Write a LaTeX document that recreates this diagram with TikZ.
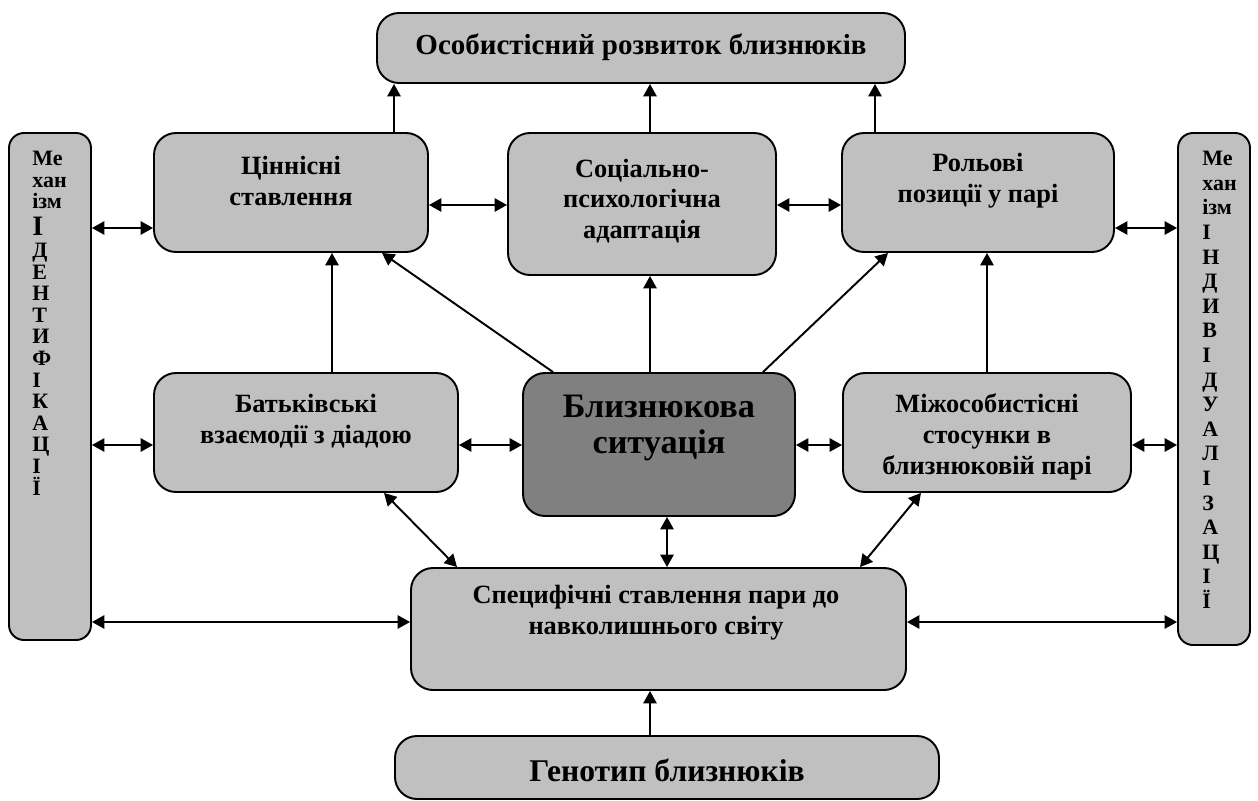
\documentclass[tikz,border=0pt]{standalone}
\usepackage{fontspec}
\setmainfont{Liberation Serif}
\usetikzlibrary{arrows.meta,fit}
\definecolor{boxgray}{HTML}{C0C0C0}
\definecolor{centergray}{HTML}{808080}
\begin{document}
\begin{tikzpicture}[x=0.02cm,y=-0.02cm,
  box/.style={draw=black, line width=1.1pt, rounded corners=0.44cm, fill=boxgray, inner sep=0pt},
  colbox/.style={box, rounded corners=0.3cm},
  txt/.style={align=center, font=\bfseries\fontsize{15}{17.5}\selectfont, inner sep=0pt},
  coltxt/.style={align=left, anchor=north west, inner sep=0pt},
  arr/.style={line width=1.1pt, -{Triangle[length=7pt,width=7.5pt]}},
  darr/.style={line width=1.1pt, {Triangle[length=7pt,width=7.5pt]}-{Triangle[length=7pt,width=7.5pt]}}]
\useasboundingbox (0,0) rectangle (1258,801);
% boxes
\node[box, fit={(377,13) (905,83)}] (top) {};
\node[colbox, fit={(9,133) (91,640)}] (lcol) {};
\node[colbox, fit={(1178,133) (1250,645)}] (rcol) {};
\node[box, fit={(154,133) (428,252)}] (cin) {};
\node[box, fit={(508,133) (776,275)}] (soc) {};
\node[box, fit={(842,133) (1114,252)}] (rol) {};
\node[box, fit={(154,373) (458,492)}] (bat) {};
\node[box, fill=centergray, fit={(523,373) (795,516)}] (blz) {};
\node[box, fit={(843,373) (1131,492)}] (miz) {};
\node[box, fit={(411,568) (906,690)}] (spe) {};
\node[box, fit={(395,736) (939,799)}] (gen) {};
% texts
\node[txt, font=\bfseries\fontsize{16.5}{19}\selectfont] (topt) at (641,47) {Особистісний розвиток близнюків};
\node[txt] (cint) at (291,181) {Ціннісні\\ставлення};
\node[txt] (soct) at (642,201) {Соціально-\\психологічна\\адаптація};
\node[txt] (rolt) at (978,181) {Рольові\\позиції у парі};
\node[txt] (batt) at (306,421) {Батьківські\\взаємодії з діадою};
\node[txt, font=\bfseries\fontsize{19.5}{21}\selectfont] (blzt) at (659,428) {Близнюкова\\ситуація};
\node[txt] (mizt) at (987,437) {Міжособистісні\\стосунки в\\близнюковій парі};
\node[txt] (spet) at (656,613) {Специфічні ставлення пари до\\навколишнього світу};
\node[txt, font=\bfseries\fontsize{18}{20}\selectfont] (gent) at (667,770) {Генотип близнюків};
\node[coltxt, font=\bfseries\fontsize{12.5}{12.3}\selectfont] (lcolt) at (32,151) {Ме\\хан\\ізм\\[3pt]{\fontsize{16}{12.3}\selectfont І}\\Д\\Е\\Н\\Т\\И\\Ф\\І\\К\\А\\Ц\\І\\Ї};
\node[coltxt, font=\bfseries\fontsize{12.5}{14}\selectfont] (rcolt) at (1202,151) {Ме\\хан\\ізм\\І\\Н\\Д\\И\\В\\І\\Д\\У\\А\\Л\\І\\З\\А\\Ц\\І\\Ї};
% helper coordinates
\coordinate (x332) at (332,0);
\coordinate (x382) at (382,0);
\coordinate (x384) at (384,0);
\coordinate (x394) at (394,0);
\coordinate (x457) at (457,0);
\coordinate (x553) at (553,0);
\coordinate (x650) at (650,0);
\coordinate (x667) at (667,0);
\coordinate (x763) at (763,0);
\coordinate (x860) at (860,0);
\coordinate (x875) at (875,0);
\coordinate (x888) at (888,0);
\coordinate (x921) at (921,0);
\coordinate (x987) at (987,0);
\coordinate (y205) at (0,205);
\coordinate (y228) at (0,228);
\coordinate (y445) at (0,445);
\coordinate (y622) at (0,622);
% connectors to top
\draw[arr] (cin.north -| x394) -- (top.south -| x394);
\draw[arr] (soc.north -| x650) -- (top.south -| x650);
\draw[arr] (rol.north -| x875) -- (top.south -| x875);
% row 1 horizontals
\draw[darr] (cin.east |- y205) -- (soc.west |- y205);
\draw[darr] (soc.east |- y205) -- (rol.west |- y205);
\draw[darr] (lcol.east |- y228) -- (cin.west |- y228);
\draw[darr] (rol.east |- y228) -- (rcol.west |- y228);
% row 2 up
\draw[arr] (bat.north -| x332) -- (cin.south -| x332);
\draw[arr] (blz.north -| x553) -- (cin.south -| x382);
\draw[arr] (blz.north -| x650) -- (soc.south -| x650);
\draw[arr] (blz.north -| x763) -- (rol.south -| x888);
\draw[arr] (miz.north -| x987) -- (rol.south -| x987);
% row 2 horizontals
\draw[darr] (lcol.east |- y445) -- (bat.west |- y445);
\draw[darr] (bat.east |- y445) -- (blz.west |- y445);
\draw[darr] (blz.east |- y445) -- (miz.west |- y445);
\draw[darr] (miz.east |- y445) -- (rcol.west |- y445);
% to specific
\draw[darr] (bat.south -| x384) -- (spe.north -| x457);
\draw[darr] (blz.south -| x667) -- (spe.north -| x667);
\draw[darr] (miz.south -| x921) -- (spe.north -| x860);
\draw[darr] (lcol.east |- y622) -- (spe.west |- y622);
\draw[darr] (spe.east |- y622) -- (rcol.west |- y622);
\draw[arr] (gen.north -| x650) -- (spe.south -| x650);
\end{tikzpicture}
\end{document}
